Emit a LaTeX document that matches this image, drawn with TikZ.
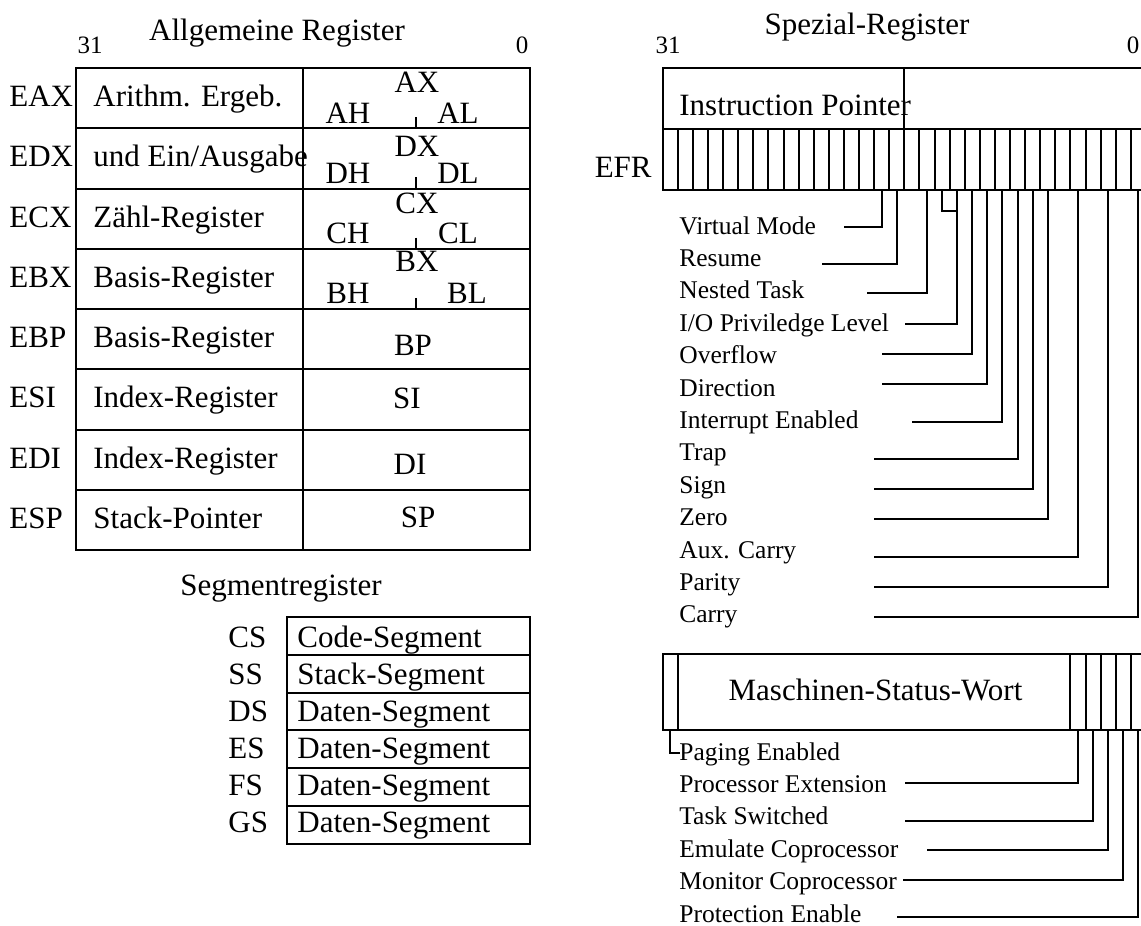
\documentclass[tikz,border=0pt]{standalone}
\usepackage{fontspec}
\setmainfont{Liberation Serif}
\usetikzlibrary{positioning, calc}

\tikzset{
  reg/.style={line width=1pt},
  wire/.style={line width=1pt},
  lbl/.style={font=\fontsize{15.5}{18}\selectfont, inner sep=0pt, anchor=base west},
  ctr/.style={font=\fontsize{15.5}{18}\selectfont, inner sep=0pt, anchor=base},
  flag/.style={font=\fontsize{12.75}{15}\selectfont, inner sep=0pt, anchor=base west},
  bitno/.style={font=\fontsize{12.5}{15}\selectfont, inner sep=0pt, anchor=base},
}

\begin{document}
\begin{tikzpicture}[x=0.5pt, y=-0.5pt]
\useasboundingbox (0,0) rectangle (1141,926);
\clip (0,0) rectangle (1141,926);

% Allgemeine Register
\node[ctr] (agtitle) at (277,40) {Allgemeine Register};
\node[bitno] (ag31) at (90,54) {31};
\node[bitno] (ag0) at (522,54) {0};
\draw[reg] (76,68) rectangle (530,550);
\draw[reg] (303,68) -- (303,550);
\foreach \i in {1,...,7}
  \draw[reg] (76,{68+60.25*\i}) -- (530,{68+60.25*\i});
\foreach \e/\t [count=\i from 0] in {EAX/Arithm. Ergeb., EDX/{und Ein/Ausgabe}, ECX/Zähl-Register,
    EBX/Basis-Register, EBP/Basis-Register, ESI/Index-Register, EDI/Index-Register, ESP/Stack-Pointer}{
  \node[lbl] (r\i) at (9,{106.5+60.25*\i}) {\e};
  \node[lbl] (t\i) at (93,{106.5+60.25*\i}) {\t};
}
\foreach \x/\h/\l/\dy/\xl [count=\i from 0] in {AX/AH/AL/24/458, DX/DH/DL/28/458, CX/CH/CL/25/458, BX/BH/BL/23/467}{
  \node[ctr] (x\i) at (417,{68+60.25*\i+\dy}) {\x};
  \node[ctr] (h\i) at (348,{68+60.25*\i+55}) {\h};
  \node[ctr] (l\i) at (\xl,{68+60.25*\i+55}) {\l};
  \draw[reg] (416,{68+60.25*\i+49}) -- (416,{68+60.25*(\i+1)});
}
\node[ctr] (bp) at (413,355) {BP};
\node[ctr] (si) at (407,408) {SI};
\node[ctr] (di) at (410,474) {DI};
\node[ctr] (sp) at (418,527) {SP};

% Segmentregister
\node[ctr] (sgtitle) at (281,595) {Segmentregister};
\draw[reg] (287.3,616.7) rectangle (530,844);
\foreach \i in {1,...,5}
  \draw[reg] (287.3,{616.7+37.9*\i}) -- (530,{616.7+37.9*\i});
\foreach \s/\t [count=\i from 0] in {CS/Code-Segment, SS/Stack-Segment, DS/Daten-Segment,
    ES/Daten-Segment, FS/Daten-Segment, GS/Daten-Segment}{
  \node[lbl] (s\i) at (228,{647+37*\i}) {\s};
  \node[lbl] (d\i) at (297,{647+37*\i}) {\t};
}

% Spezial-Register
\node[ctr] (sptitle) at (867,34) {Spezial-Register};
\node[bitno] (sp31) at (668,54) {31};
\node[bitno] (sp0) at (1133,54) {0};
\draw[reg] (662.7,68) rectangle (1146,190);
\draw[reg] (662.7,129) -- (1146,129);
\draw[line width=0.6pt] (904,68) -- (904,129);
\foreach \j in {1,...,31}
  \draw[reg] ({662.7+15.1*\j},129) -- ({662.7+15.1*\j},190);
\node[lbl] (ip) at (679,115) {Instruction Pointer};
\node[lbl, anchor=base east] (efr) at (652,177) {EFR};
\foreach \k in {0,...,31}
  \coordinate (e\k) at ({662.7+15.1*(\k+0.5)},190);

\foreach \l/\k/\ly/\xs [count=\i from 0] in {Virtual Mode/14/227/844, Resume/15/264/822,
    Nested Task/17/293/867, {I/O Priviledge Level}/19/324/905, Overflow/20/354/882,
    Direction/21/384/882, Interrupt Enabled/22/422/912, Trap/23/459/874, Sign/24/489/874,
    Zero/25/519/874, Aux. Carry/27/557/874, Parity/29/587/874, Carry/31/617/874}{
  \node[flag] (f\i) at (679,{234+32.4*\i}) {\l};
  \coordinate (w\i) at (\xs,\ly);
  \draw[wire] (e\k) |- (w\i);
}
\draw[wire] (e18) -- ++(0,20.7) -- ($(e19)+(0,20.7)$);

% Maschinen-Status-Wort
\draw[reg] (662.7,654) rectangle (1146,730);
\foreach \j in {1,27,28,29,30,31}
  \draw[reg] ({662.7+15.1*\j},654) -- ({662.7+15.1*\j},730);
\node[ctr] (msw) at (875.5,700) {Maschinen-Status-Wort};
\foreach \k in {0,27,28,29,30,31}
  \coordinate (m\k) at ({662.7+15.1*(\k+0.5)},730);
\foreach \l/\k/\ly/\xs [count=\i from 0] in {Paging Enabled/0/752.7/680, Processor Extension/27/782.7/905,
    Task Switched/28/820.7/905, Emulate Coprocessor/29/850/927,
    Monitor Coprocessor/30/880/903, Protection Enable/31/916.7/897}{
  \node[flag] (p\i) at (679,{760+32.4*\i}) {\l};
  \coordinate (v\i) at (\xs,\ly);
  \draw[wire] (m\k) |- (v\i);
}
\end{tikzpicture}
\end{document}
